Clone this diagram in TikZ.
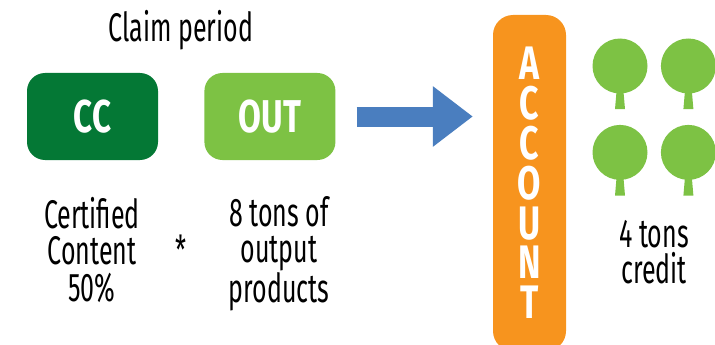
\documentclass[tikz,border=0pt]{standalone}
\usepackage{fontspec}
\setmainfont[FakeStretch=0.625]{Fira Sans}
\newfontfamily\boldcond[FakeStretch=0.72]{Fira Sans Bold}
\usepackage{tikz}
\usetikzlibrary{arrows.meta,positioning}
\definecolor{ccgreen}{HTML}{047835}
\definecolor{outgreen}{HTML}{7DC244}
\definecolor{accorange}{HTML}{F7941E}
\definecolor{flowblue}{HTML}{4A7EBF}
\begin{document}
\begin{tikzpicture}[
    x=1pt,
    y=-1pt,
    node distance=46pt,
    period/.style={
		rectangle,
		rounded corners=18pt,
		text centered,
		minimum height=87pt,
		minimum width=131pt,
		text=white,
		font=\boldcond\fontsize{46}{46}\selectfont
	},
	account/.style={
		rectangle,
		rounded corners=20pt,
		fill=accorange,
		text centered,
		align=center,
		minimum height=336pt,
		minimum width=73pt,
		text=white,
		font=\boldcond\fontsize{47}{39.8}\selectfont
	},
	caption/.style={
		align=center,
		inner sep=0pt,
		font=\fontsize{40}{36.5}\selectfont
	},
	crown/.style={
		circle,
		fill=outgreen,
		inner sep=0pt,
		minimum size=55pt
	},
	trunk/.style={
		fill=outgreen
	}
  ]

 \useasboundingbox (0,0) rectangle (715,345);

 \node [period, fill=ccgreen] (cc) at (92.5,116.5) {CC};
 \node [period, fill=outgreen, right=of cc] (out) {OUT};
 \node [caption] (claim) at (181,30.5) {Claim period};

 \node [caption] (content) at (92,250) {Certified\\Content\\50\%};
 \node [caption] (tons) at (279,253.5) {8 tons of\\output\\products};
 \node [caption] (times) at (181,250) {*};

 % account bar runs off the bottom edge
 \node [account] (acc) at (529.5,183) {A\\C\\C\\O\\U\\N\\T};

 \draw [flowblue, line width=20pt, shorten <=21pt, shorten >=20pt,
   -{Triangle[length=40pt,width=58pt]}] (out.east) -- (out.east -| acc.west);

 % the trees
 \node [crown] (tree1) at (620,66) {};
 \node [crown, right=13pt of tree1] (tree2) {};
 \node [crown, below=31pt of tree1] (tree3) {};
 \node [crown, right=13pt of tree3] (tree4) {};
 \fill [trunk] (tree1.south) ++(-3.5,-2) -- ++(7,0) -- ++(1.5,17.5) -- ++(-10,0) -- cycle;
 \fill [trunk] (tree2.south) ++(-3.5,-2) -- ++(7,0) -- ++(1.5,17.5) -- ++(-10,0) -- cycle;
 \fill [trunk] (tree3.south) ++(-3.5,-2) -- ++(7,0) -- ++(1.5,17.5) -- ++(-10,0) -- cycle;
 \fill [trunk] (tree4.south) ++(-3.5,-2) -- ++(7,0) -- ++(1.5,17.5) -- ++(-10,0) -- cycle;

 \node [caption] (credit) at (654,252) {4 tons\\credit};

\end{tikzpicture}
\end{document}
